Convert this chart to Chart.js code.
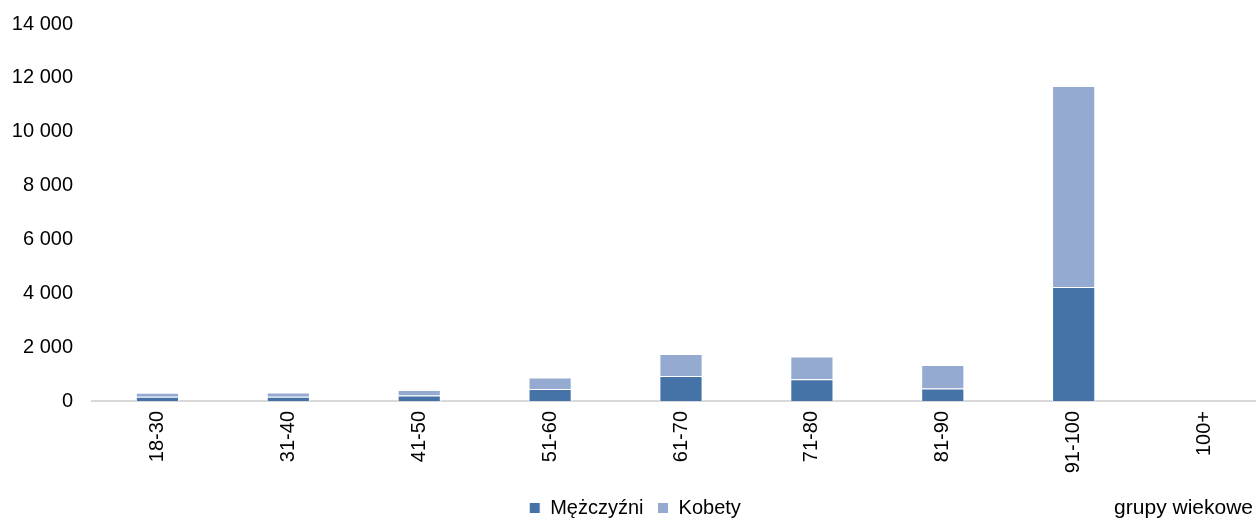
<!DOCTYPE html>
<html>
<head>
<meta charset="utf-8">
<script src="https://cdn.jsdelivr.net/npm/chart.js@4"></script>
<style>
  html, body { margin: 0; padding: 0; background: #fff; overflow: hidden; }
  #wrap { width: 1270px; height: 518px; position: relative; }
</style>
</head>
<body>
<div id="wrap"><canvas id="myChart"></canvas></div>
<script>
// age groups and counts per group
let groups = ['18-30', '31-40', '41-50', '51-60', '61-70', '71-80', '81-90', '91-100', '100+']
let menAm = [155, 160, 200, 450, 930, 805, 460, 4230, 2]
let womenAm = [150, 160, 210, 420, 815, 845, 880, 7470, 3]

let yTicks = [0, 2000, 4000, 6000, 8000, 10000, 12000, 14000]

const fontName = '"Liberation Sans", Arial, sans-serif'

// thousands with a space, like "12 000"
function spaced(v) {
  return String(v).replace(/\B(?=(\d{3})+(?!\d))/g, ' ')
}

// axis caption at bottom right
const axisCaption = {
  id: 'axisCaption',
  afterDraw(chart) {
    const c = chart.ctx
    c.save()
    c.font = '21px ' + fontName
    c.fillStyle = '#000'
    c.textAlign = 'right'
    c.textBaseline = 'middle'
    c.fillText('grupy wiekowe', 1253, 508)
    c.restore()
  }
}

const ctx = document.getElementById('myChart')

let myChart = new Chart(ctx, {
  type: 'bar',
  data: {
    labels: groups,
    datasets: [{
      label: 'Mężczyźni',
      data: menAm,
      backgroundColor: '#4673a7',
      borderColor: '#ffffff',
      borderWidth: 1,
      categoryPercentage: 1,
      barPercentage: 0.33
    }, {
      label: 'Kobety',
      data: womenAm,
      backgroundColor: '#95aad0',
      borderColor: '#ffffff',
      borderWidth: 1,
      categoryPercentage: 1,
      barPercentage: 0.33
    }]
  },
  options: {
    responsive: true,
    maintainAspectRatio: false,
    animation: false,
    layout: { padding: 0 },
    plugins: {
      legend: {
        position: 'bottom',
        maxHeight: 34,
        labels: {
          font: { family: fontName, size: 20 },
          color: '#000',
          boxWidth: 11,
          boxHeight: 11,
          padding: 14
        }
      },
      tooltip: { enabled: false }
    },
    scales: {
      x: {
        stacked: true,
        grid: { display: false, drawTicks: false },
        border: { display: true, color: '#d9d9d9', width: 2 },
        ticks: {
          font: { family: fontName, size: 20 },
          color: '#000',
          minRotation: 90,
          maxRotation: 90,
          padding: 10
        },
        afterFit(scale) { scale.height = 83 }
      },
      y: {
        stacked: true,
        min: 0,
        max: 14000,
        afterBuildTicks(scale) { scale.ticks = yTicks.map(v => ({ value: v })) },
        grid: { display: false, drawTicks: false },
        border: { display: false },
        ticks: {
          font: { family: fontName, size: 20 },
          color: '#000',
          padding: 19,
          callback: v => spaced(v)
        },
        afterFit(scale) {
          scale.width = 92
          scale.paddingTop = 24
        }
      }
    }
  },
  plugins: [axisCaption]
})
</script>
</body>
</html>
